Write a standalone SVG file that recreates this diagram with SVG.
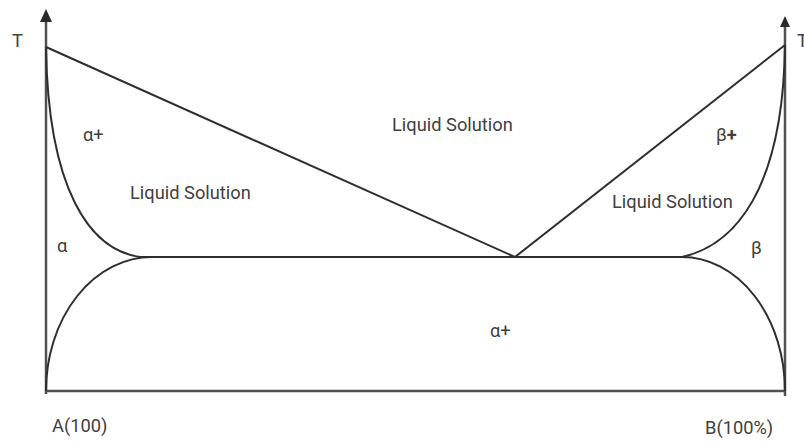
<svg xmlns="http://www.w3.org/2000/svg" width="804" height="443" viewBox="0 0 804 443">
<style>
.ax{stroke:#505050;stroke-width:2.5;fill:none}
.ln{stroke:#2e2e2e;stroke-width:2;fill:none}
text{font-family:Roboto,"Liberation Sans",sans-serif;font-size:18.3px;fill:#404040}
</style>
<rect width="804" height="443" fill="#fff"/>
<g id="connectors">
<line class="ax" x1="46" y1="394" x2="46" y2="20"/>
<polygon points="46,9 40,22 52,22" fill="#2a2a2a"/>
<line class="ax" x1="785" y1="396" x2="785" y2="26"/>
<polygon points="785,16 780,27 790,27" fill="#2a2a2a"/>
<line class="ax" x1="46" y1="391" x2="785" y2="391"/>
<line class="ln" x1="46" y1="47" x2="515" y2="257"/>
<line class="ln" x1="785" y1="45" x2="515" y2="257"/>
<line class="ln" x1="140" y1="257" x2="682" y2="257"/>
<path class="ln" d="M46,47 C48,190 90,250 140,257"/>
<path class="ln" d="M46,391 A106,134 0 0 1 152,257"/>
<path class="ln" d="M682,257 C735,245 783,190 785,45"/>
<path class="ln" d="M682,257 A103,134 0 0 1 785,391"/>
</g>
<g id="labels">
<text x="12" y="47">T</text>
<text x="797" y="47">T</text>
<text x="83" y="141">α+</text>
<text x="392" y="131">Liquid Solution</text>
<text x="130" y="199">Liquid Solution</text>
<text x="612" y="208">Liquid Solution</text>
<text x="716" y="141">β<tspan font-weight="bold">+</tspan></text>
<text x="57" y="252">α</text>
<text x="751" y="254">β</text>
<text x="490" y="337">α+</text>
<text x="52" y="432">A(100)</text>
<text x="705" y="434">B(100%)</text>
</g>
</svg>
